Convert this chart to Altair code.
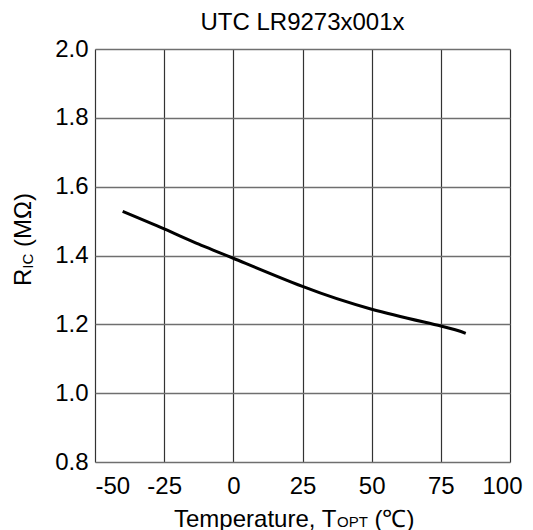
import altair as alt
import pandas as pd

# data
temps = [-40, -25, -12.5, 0, 25, 50, 75, 84]
ric = [1.528, 1.477, 1.433, 1.392, 1.310, 1.244, 1.195, 1.174]

x_ticks = [-50, -25, 0, 25, 50, 75, 100]
y_ticks = [0.8, 1.0, 1.2, 1.4, 1.6, 1.8, 2.0]

title_text = "UTC LR9273x001x"
ytitle_main = "R"
ytitle_sub = "IC"
ytitle_rest = "(MΩ)"
xtitle_main = "Temperature, T"
xtitle_sub = "OPT"
xtitle_rest = "(℃)"

FONT = "Liberation Sans"

df = pd.DataFrame({"T": temps, "R": ric})

line = alt.Chart(df).mark_line(
    color="black", strokeWidth=3, interpolate="natural"
).encode(
    x=alt.X("T:Q",
            scale=alt.Scale(domain=[-50, 100], nice=False),
            axis=alt.Axis(values=x_ticks, title=None, labelFontSize=24,
                          labelFont=FONT, labelColor="black",
                          labelPadding=12, ticks=False, tickSize=0,
                          domain=False, grid=True, gridColor="#333333",
                          gridWidth=1.2, labelExpr="replace(datum.label, '−', '-')",
                          labelAlign={"condition": {"test": "datum.value == -50", "value": "left"}, "value": "center"},
                          labelOffset={"condition": {"test": "datum.value == 100", "value": -8}, "value": 0})),
    y=alt.Y("R:Q",
            scale=alt.Scale(domain=[0.8, 2.0], nice=False, zero=False),
            axis=alt.Axis(values=y_ticks, format=".1f", title=None,
                          labelFontSize=24, labelFont=FONT, labelColor="black",
                          labelPadding=7, ticks=False, tickSize=0,
                          domain=False, grid=True, gridColor="#6f6f6f",
                          gridWidth=1.6)),
)


def piece(text, x, y, size, angle=0, align="left"):
    return alt.Chart(pd.DataFrame({"t": [text]})).mark_text(
        font=FONT, fontSize=size, color="black", align=align,
        baseline="alphabetic", angle=angle
    ).encode(text="t:N", x=alt.value(x), y=alt.value(y))


title = piece(title_text, 207.5, -19, 24, align="center")

xt_y = 477.5
xt1 = piece(xtitle_main, 79, xt_y, 24)
xt2 = piece(xtitle_sub, 79 + 163, xt_y + 0.5, 15)
xt3 = piece(xtitle_rest, 79 + 163 + 30.8 + 6.7, xt_y, 24)

yt_x = -64
yt1 = piece(ytitle_main, yt_x, 237, 24, angle=270)
yt2 = piece(ytitle_sub, yt_x + 2, 237 - 17.3, 15, angle=270)
yt3 = piece(ytitle_rest, yt_x, 237 - 17.3 - 15 - 6.7, 24, angle=270)

chart = alt.layer(line, title, xt1, xt2, xt3, yt1, yt2, yt3).properties(
    width=415,
    height=413,
    padding={"left": 87, "top": 41, "right": 15, "bottom": 72},
    autosize=alt.AutoSizeParams(type="none"),
).configure_view(
    stroke="black", strokeWidth=2
).configure(background="white")

chart.save("out.html", embed_options={"renderer": "svg", "actions": False})
